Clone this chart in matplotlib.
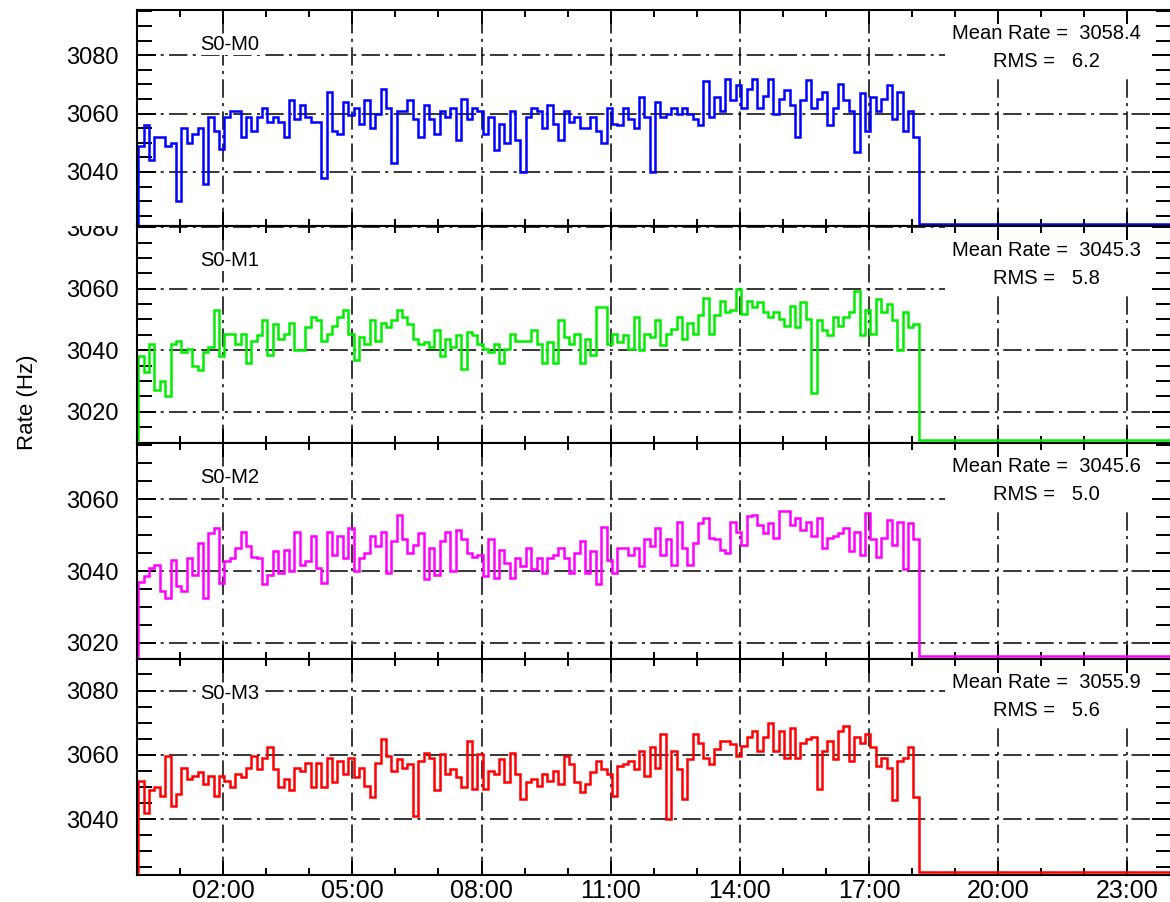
import numpy as np
import matplotlib
matplotlib.use('Agg')
import matplotlib.pyplot as plt
from matplotlib.ticker import MultipleLocator, FixedLocator
from matplotlib.patches import Rectangle
from matplotlib.transforms import Bbox, TransformedBbox

##############################################################################
# rate histories, one value per 7.5 min bin (Hz)

rate_m0 = [3049, 3056, 3044, 3052, 3052, 3049, 3050, 3030,
           3055, 3050, 3053, 3055, 3036, 3059, 3054, 3048,
           3059, 3061, 3061, 3052, 3059, 3054, 3059, 3062,
           3057, 3059, 3057, 3052, 3064.5, 3058, 3063, 3059,
           3057, 3057, 3038, 3067.5, 3054, 3053, 3064, 3059.5,
           3062, 3056.5, 3064.5, 3055, 3060, 3068.5, 3062, 3043,
           3061, 3061, 3064.5, 3058, 3052, 3063, 3058, 3053,
           3061, 3059, 3062, 3051, 3065, 3058, 3062, 3061,
           3053, 3059, 3047.5, 3056.5, 3050, 3061, 3051, 3040,
           3059, 3062, 3061, 3055, 3063, 3056.5, 3051, 3061,
           3057, 3059, 3055, 3055, 3059, 3054, 3050, 3062,
           3056.5, 3056, 3062, 3058, 3055, 3065.7, 3059, 3040,
           3064, 3059, 3060, 3062, 3060, 3062, 3060, 3058,
           3056, 3071, 3059, 3065.7, 3061, 3072, 3064.5, 3069.7,
           3062, 3068.6, 3072, 3062, 3066, 3072, 3060, 3065,
           3068, 3063, 3052, 3064.5, 3071.4, 3062, 3065, 3067.5,
           3056, 3062, 3070, 3064.5, 3061, 3047, 3067, 3054,
           3065.7, 3061, 3065, 3069.7, 3058, 3067.5, 3054, 3061,
           3052]

rate_m1 = [3038, 3033, 3042, 3027, 3030, 3025, 3042, 3043,
           3039.5, 3040.5, 3035, 3033.5, 3039.5, 3041, 3053, 3038,
           3045.4, 3045.4, 3042, 3045.4, 3035.7, 3043, 3044.8, 3049.7,
           3038.4, 3048.6, 3043.8, 3045.4, 3049, 3040, 3040, 3047.5,
           3050.7, 3049.7, 3043, 3045.4, 3048, 3050.7, 3053, 3045.4,
           3036.8, 3044.3, 3042, 3049.7, 3043, 3049, 3047.5, 3049.7,
           3053, 3050.7, 3048.6, 3043.8, 3042, 3042.7, 3041, 3046.5,
           3038, 3043.8, 3041, 3044.8, 3034, 3046, 3044.8, 3042,
           3040.5, 3039.5, 3042, 3035.7, 3040.5, 3045.4, 3043, 3043,
           3043, 3046.5, 3042, 3035.7, 3042.7, 3035.7, 3049.7, 3044.3,
           3042, 3045.4, 3035.7, 3043.8, 3038.4, 3054, 3054, 3042,
           3045.4, 3042.7, 3044.8, 3040.5, 3050.7, 3040, 3045.4, 3044.3,
           3049.7, 3041.6, 3045.4, 3047, 3050.7, 3043.8, 3049, 3045.4,
           3051.3, 3057, 3045.4, 3051.3, 3056, 3052.4, 3053, 3059.9,
           3051.8, 3056, 3054, 3055.6, 3052.4, 3050.7, 3052.4, 3050,
           3048, 3054.5, 3047.5, 3055.6, 3050, 3026, 3049.7, 3046.5,
           3044.8, 3050.7, 3048, 3050.7, 3052.4, 3059.4, 3044.8, 3053,
           3045.4, 3056.7, 3052.4, 3055, 3049.7, 3040, 3052.4, 3047.5,
           3048.6]

rate_m2 = [3037, 3038.6, 3041, 3041.8, 3034.5, 3032.6, 3043.2, 3035.9,
           3034.5, 3043.7, 3039, 3047.8, 3032.6, 3050.6, 3052, 3036.8,
           3042.8, 3043.7, 3046.5, 3051, 3047, 3044, 3043.7, 3036.3,
           3039, 3045.5, 3039.5, 3046, 3040, 3051, 3041.8, 3042.8,
           3049.7, 3041, 3036.8, 3051, 3044.6, 3049.7, 3043.7, 3052,
           3040, 3043.7, 3045, 3049.7, 3047, 3051, 3039.5, 3048.3,
           3055.7, 3048.8, 3045, 3047.4, 3050.6, 3037.7, 3046.5, 3039,
           3048.3, 3051, 3040, 3051.5, 3048.8, 3045, 3044, 3044.6,
           3038.6, 3048.8, 3038, 3046, 3042.3, 3038, 3043.7, 3041.4,
           3046.5, 3040.5, 3043.7, 3039.5, 3043.7, 3044.6, 3046.5, 3043.7,
           3039.5, 3045, 3048.3, 3039.5, 3045.5, 3036.3, 3052.4, 3043.2,
           3039.5, 3046.5, 3046.5, 3044.6, 3046.5, 3041.4, 3048.8, 3047,
           3052, 3044.6, 3048.8, 3041.8, 3053.8, 3046.5, 3041.8, 3047.8,
           3053.4, 3054.7, 3049.2, 3048.8, 3046, 3045, 3053.8, 3051,
           3047.4, 3055.2, 3055.7, 3052.9, 3050.6, 3053.4, 3049.2, 3056.6,
           3056.6, 3052.9, 3054.7, 3051.5, 3053.8, 3049.7, 3054.7, 3046.5,
           3049.2, 3049.7, 3050.6, 3052, 3045.5, 3051, 3044.6, 3056.1,
           3048.8, 3044, 3049.2, 3054.3, 3047.4, 3053.8, 3040.5, 3053.4,
           3048.8]

rate_m3 = [3052, 3042, 3049, 3050, 3047.3, 3059.7, 3044.2, 3047.8,
           3056, 3052.5, 3053.5, 3054.5, 3051, 3053.5, 3047.3, 3053.5,
           3052, 3050, 3054, 3053, 3056, 3059.7, 3055.6, 3059,
           3062.3, 3055.6, 3050, 3052.5, 3049, 3056, 3055, 3057.6,
           3050, 3057.6, 3050, 3059, 3051.4, 3058, 3054, 3059,
           3053, 3056, 3050.4, 3046.8, 3057.6, 3064.8, 3059.7, 3055,
           3058.7, 3056, 3057, 3041, 3058, 3060.7, 3059, 3049,
           3060.2, 3054, 3055.6, 3053, 3050, 3064.3, 3049.4, 3060.2,
           3049.4, 3055, 3054, 3058.7, 3051.4, 3060.7, 3054, 3046.3,
           3051.4, 3052.5, 3050.4, 3054, 3052, 3055, 3051, 3059.7,
           3057, 3051.4, 3048.4, 3051, 3054.5, 3058, 3055.6, 3054,
           3047.3, 3056.6, 3057, 3058, 3055.6, 3061.2, 3053.5, 3062.3,
           3056, 3066.4, 3040, 3061.2, 3055.6, 3046.3, 3058.7, 3066.4,
           3063.8, 3059, 3057, 3061.8, 3064.3, 3064.3, 3063.3, 3059.7,
           3062.8, 3065.4, 3067.4, 3061.2, 3065.4, 3070, 3061.2, 3067.4,
           3059, 3068.5, 3059, 3063.8, 3064.8, 3065.4, 3049.4, 3061.2,
           3064.3, 3058.7, 3067.4, 3069, 3058, 3065.4, 3063.8, 3066.4,
           3062.3, 3056.6, 3059, 3056, 3045.8, 3058, 3059, 3062.3,
           3047]

module_names = ['S0-M0', 'S0-M1', 'S0-M2', 'S0-M3']
mean_rates = [3058.4, 3045.3, 3045.6, 3055.9]
rms_values = [6.2, 5.8, 5.0, 5.6]
hour_ticks = [2, 5, 8, 11, 14, 17, 20, 23]

##############################################################################
# INPUTS
t_first = 0.03      # first bin edge (h)
bin_width = 0.125   # h
t_last = 24.0       # end of the day (h)
colors = ['#0000ff', '#00ee00', '#ff00ff', '#ff0000']
y_ranges = [(3021.4, 3095.5), (3010.0, 3080.3), (3015.6, 3075.8), (3022.6, 3089.9)]

px = 1/100.  # inches per pixel
plt.rcParams['font.family'] = ['Liberation Sans', 'DejaVu Sans']

fig = plt.figure(figsize=(1170*px, 902*px), dpi=100)
gs = fig.add_gridspec(4, 1, left=137/1170, right=1170.5/1170,
                      top=1 - 10/902, bottom=1 - 875/902, hspace=0)

grid_style = dict(color='black', lw=1.1, ls=(0, (12, 3.5, 2, 3.5)), zorder=1)
all_rates = [rate_m0, rate_m1, rate_m2, rate_m3]

for i in range(4):
    ax = fig.add_subplot(gs[i, 0])
    ylo, yhi = y_ranges[i]
    rates = np.array(all_rates[i], dtype=float)
    n = len(rates)

    # step trace: empty before the run, rates, then empty to midnight
    edges = np.concatenate([[0.0], t_first + bin_width*np.arange(n + 1), [t_last]])
    values = np.concatenate([[0.0], rates, [0.0]])
    floor = ylo + 0.012*(yhi - ylo)
    ax.stairs(np.maximum(values, floor), edges, baseline=None,
              color=colors[i], lw=1.8, zorder=2)

    ax.set_xlim(0, 24)
    ax.set_ylim(ylo, yhi)

    # ticks
    ax.xaxis.set_major_locator(FixedLocator(hour_ticks))
    ax.xaxis.set_minor_locator(MultipleLocator(1))
    ax.yaxis.set_major_locator(MultipleLocator(20))
    ax.yaxis.set_minor_locator(MultipleLocator(5))
    ax.tick_params(which='both', direction='in', top=True, right=True,
                   width=1.4, color='black')
    ax.tick_params(axis='y', which='major', length=14, labelsize=17, pad=13.5)
    ax.tick_params(axis='y', which='minor', length=10.5)
    ax.tick_params(axis='x', which='major', length=10, labelsize=18, pad=3)
    ax.tick_params(axis='x', which='minor', length=5)
    for sp in ax.spines.values():
        sp.set_linewidth(1.5)

    if i < 3:
        ax.tick_params(axis='x', labelbottom=False)
    else:
        ax.set_xticks(hour_ticks)
        ax.set_xticklabels(['%02d:00' % h for h in hour_ticks])

    # dash-dot grid, drawn by hand so the stat box can sit on it
    for h in hour_ticks:
        ax.axvline(h, **grid_style)
    for r in np.arange(np.ceil(ylo/20)*20, yhi, 20):
        ax.axhline(r, **grid_style)

    # keep the y labels inside their own pad
    pos = ax.get_position()
    clip = TransformedBbox(Bbox([[0, pos.y0], [1, pos.y1]]), fig.transFigure)
    for lab in ax.get_yticklabels():
        lab.set_clip_box(clip)
        lab.set_clip_on(True)

    # stat box
    ax.add_patch(Rectangle((0.782, 0.68), 0.201, 0.32, transform=ax.transAxes,
                           facecolor='white', edgecolor='none', zorder=1.5))
    ax.text(0.8795, 0.89, 'Mean Rate =  %.1f' % mean_rates[i], transform=ax.transAxes,
            ha='center', va='center', fontsize=14.5, zorder=4)
    ax.text(0.8795, 0.76, 'RMS =   %.1f' % rms_values[i], transform=ax.transAxes,
            ha='center', va='center', fontsize=14.5, zorder=4)

    ax.text(0.061, 0.84, module_names[i], transform=ax.transAxes,
            ha='left', va='center', fontsize=14.5, zorder=4,
            bbox=dict(facecolor='white', edgecolor='none', pad=0.5))

fig.text(28/1170, 1 - 402/902, 'Rate (Hz)', rotation=90, ha='center', va='center',
         fontsize=16)

plt.savefig('out.png', dpi=100)
plt.close()
